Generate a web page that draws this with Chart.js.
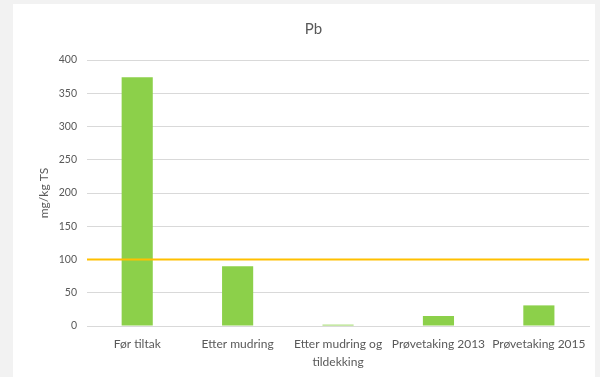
<!DOCTYPE html>
<html>
<head>
<meta charset="utf-8">
<script src="https://cdn.jsdelivr.net/npm/chart.js@4"></script>
<style>
  html, body { margin:0; padding:0; background:#f2f2f2; width:600px; height:377px; overflow:hidden; }
  #panel { position:absolute; left:13px; top:4px; width:582px; height:373px; background:#ffffff; }
  canvas { display:block; }
</style>
</head>
<body>
<div id="panel"><canvas id="c" width="582" height="373"></canvas></div>
<script>
const categories = ["Før tiltak", "Etter mudring", ["Etter mudring og", "tildekking"], "Prøvetaking 2013", "Prøvetaking 2015"];
const pbValues = [374, 90, 2, 15, 31];
const threshold = 100;
const yTicks = [0, 50, 100, 150, 200, 250, 300, 350, 400];

const thresholdLine = {
  id: 'thresholdLine',
  afterDatasetsDraw(chart) {
    const {ctx, chartArea, scales} = chart;
    const y = scales.y.getPixelForValue(threshold);
    ctx.save();
    ctx.strokeStyle = '#FFC000';
    ctx.lineWidth = 2;
    ctx.beginPath();
    ctx.moveTo(chartArea.left, y);
    ctx.lineTo(chartArea.right, y);
    ctx.stroke();
    ctx.restore();
  }
};

Chart.defaults.font.family = 'Lato, "Liberation Sans", sans-serif';

new Chart(document.getElementById('c'), {
  type: 'bar',
  data: {
    labels: categories,
    datasets: [{
      label: 'Pb',
      data: pbValues,
      backgroundColor: '#8CD04A',
      borderWidth: 0,
      categoryPercentage: 1,
      barPercentage: 0.31
    }]
  },
  options: {
    responsive: false,
    animation: false,
    layout: { padding: { left: 24, right: 5, top: 0, bottom: 0 } },
    plugins: {
      legend: { display: false },
      tooltip: { enabled: false },
      title: {
        display: true,
        text: 'Pb',
        color: '#595959',
        font: { size: 15, weight: 'normal' },
        padding: { top: 16, bottom: 22 }
      }
    },
    scales: {
      x: {
        grid: { display: false, drawTicks: false },
        border: { display: true, color: '#d9d9d9', width: 1 },
        ticks: { color: '#595959', font: { size: 12, lineHeight: 1.5 }, padding: 9, maxRotation: 0, autoSkip: false },
        afterFit(s) { s.height = 51; }
      },
      y: {
        min: 0,
        max: 400,
        afterBuildTicks(s) { s.ticks = yTicks.map(v => ({ value: v })); },
        grid: { color: '#d9d9d9', drawTicks: false },
        border: { display: false },
        ticks: { color: '#595959', font: { size: 10.5 }, padding: 10 },
        title: { display: true, text: 'mg/kg TS', color: '#595959', font: { size: 12 }, padding: { top: 0, bottom: 0 } },
        afterFit(s) { s.width = 50; }
      }
    }
  },
  plugins: [thresholdLine]
});
</script>
</body>
</html>
